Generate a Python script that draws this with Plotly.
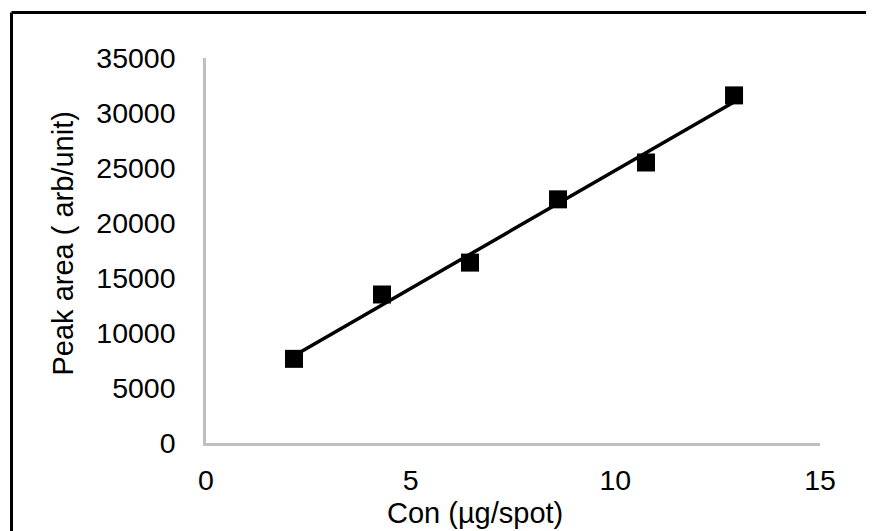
import numpy as np
import plotly.graph_objects as go

# Data
con = [2.15, 4.3, 6.45, 8.6, 10.75, 12.9]
peak_area = [7650, 13500, 16400, 22150, 25500, 31600]
x_ticks = [0, 5, 10, 15]
y_ticks = [0, 5000, 10000, 15000, 20000, 25000, 30000, 35000]
x_title = "Con (µg/spot)"
y_title = "Peak area ( arb/unit)"

# Linear trendline (least squares, like Excel)
slope, intercept = np.polyfit(con, peak_area, 1)
trend_x = [min(con), max(con)]
trend_y = [slope * v + intercept for v in trend_x]

FONT = "Liberation Sans, Arial, sans-serif"

fig = go.Figure()
fig.add_trace(go.Scatter(x=trend_x, y=trend_y, mode="lines",
                         line=dict(color="black", width=3.5),
                         showlegend=False, hoverinfo="skip"))
fig.add_trace(go.Scatter(x=con, y=peak_area, mode="markers",
                         marker=dict(symbol="square", size=18, color="black",
                                     line=dict(width=0)),
                         showlegend=False))

OFF = 8  # page body margin
W, H = 874 - OFF, 531 - OFF
L, R, T, B = 206 - OFF, 54, 58 - OFF, 88
pw, ph = W - L - R, H - T - B

def px2x(p):
    return (p - OFF - L) / pw

def py2y(p):
    return (H - B - (p - OFF)) / ph

# Outer border (left and top visible)
fig.add_shape(type="line", xref="paper", yref="paper",
              x0=px2x(11.5), x1=px2x(11.5), y0=py2y(560), y1=py2y(12.5),
              line=dict(color="black", width=3))
fig.add_shape(type="line", xref="paper", yref="paper",
              x0=px2x(11.5), x1=px2x(900), y0=py2y(12.5), y1=py2y(12.5),
              line=dict(color="black", width=3))

# Axis titles (positioned as in the reference)
fig.add_annotation(text=x_title, xref="paper", yref="paper",
                   x=px2x(475), y=py2y(513), xanchor="center", yanchor="middle",
                   showarrow=False, font=dict(family=FONT, size=29, color="black"))
fig.add_annotation(text=y_title, xref="paper", yref="paper",
                   x=px2x(62), y=py2y(243.5), xanchor="center", yanchor="middle",
                   textangle=-90, showarrow=False,
                   font=dict(family=FONT, size=29, color="black"))

fig.update_layout(
    width=W, height=H,
    margin=dict(l=L, r=R, t=T, b=B, autoexpand=False),
    paper_bgcolor="white", plot_bgcolor="white",
    font=dict(family=FONT, size=28.5, color="black"),
    xaxis=dict(range=[0, 15], tickvals=x_ticks, ticktext=[str(v) for v in x_ticks],
               showgrid=False, zeroline=False,
               showline=True, linecolor="#bfbfbf", linewidth=2.5,
               ticks="", ticklabelstandoff=10, automargin=False),
    yaxis=dict(range=[0, 35000], tickvals=y_ticks, ticktext=[str(v) for v in y_ticks],
               showgrid=False, zeroline=False,
               showline=True, linecolor="#bfbfbf", linewidth=2.5,
               ticks="", ticklabelstandoff=22, automargin=False),
)

fig.write_html("out.html")
